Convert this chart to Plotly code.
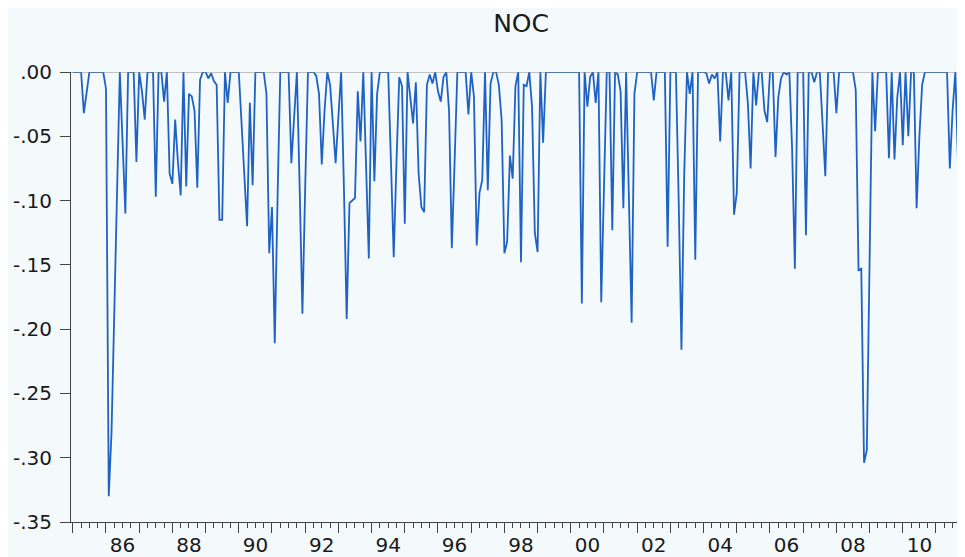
import plotly.graph_objects as go

# monthly NOC series, 1985m1 .. 2011m12 (one row per year)
start_year = 1985
noc = [
    0, 0, 0, 0, -.032, -.015, 0, 0, 0, 0, 0, 0,
    -.013, -.33, -.28, -.19, -.09, 0, -.055, -.110, 0, 0, 0, -.070,
    0, -.015, -.037, 0, 0, 0, -.097, 0, 0, -.023, 0, -.079,
    -.087, -.037, -.070, -.096, 0, -.089, -.017, -.019, -.030, -.090, -.006, 0,
    0, -.005, -.001, -.007, -.010, -.115, -.115, 0, -.024, 0, 0, 0,
    0, -.040, -.085, -.120, -.024, -.088, 0, 0, 0, 0, -.017, -.141,
    -.105, -.211, -.100, 0, 0, 0, 0, -.071, -.035, 0, -.090, -.188,
    -.090, 0, 0, 0, -.003, -.017, -.072, -.030, 0, -.010, -.040, -.071,
    -.035, 0, -.090, -.192, -.102, -.100, -.098, -.015, -.054, 0, -.070, -.145,
    0, -.085, -.017, 0, 0, 0, 0, -.070, -.144, -.070, -.004, -.011,
    -.118, 0, -.020, -.040, -.008, -.079, -.105, -.109, -.010, -.002, -.009, 0,
    -.015, -.023, -.004, 0, -.030, -.137, -.070, 0, 0, 0, 0, -.033,
    0, -.019, -.135, -.094, -.084, 0, -.092, -.009, 0, 0, -.010, -.037,
    -.141, -.132, -.065, -.083, -.011, 0, -.148, -.010, -.011, 0, -.027, -.125,
    -.140, 0, -.055, 0, 0, 0, 0, 0, 0, 0, 0, 0,
    0, 0, 0, 0, -.180, 0, -.027, -.004, 0, -.024, 0, -.179,
    -.090, 0, 0, -.123, 0, -.002, -.015, -.106, 0, -.100, -.195, -.017,
    0, 0, 0, 0, 0, 0, -.022, 0, 0, 0, 0, -.136,
    0, 0, 0, -.100, -.216, -.080, 0, -.017, 0, -.146, 0, 0,
    0, -.001, -.009, -.002, -.005, 0, -.054, 0, 0, -.022, 0, -.111,
    -.094, 0, 0, 0, -.024, -.075, 0, -.026, 0, 0, -.030, -.039,
    0, 0, -.066, -.020, -.005, 0, -.002, 0, -.060, -.153, 0, 0,
    0, -.127, 0, 0, -.008, 0, 0, -.040, -.081, 0, 0, 0,
    -.032, 0, 0, 0, 0, 0, 0, -.014, -.154, -.153, -.304, -.294,
    -.147, 0, -.046, 0, 0, 0, 0, -.067, 0, -.068, -.020, 0,
    -.057, 0, -.050, 0, 0, -.106, -.050, -.010, 0, 0, 0, 0,
    0, 0, 0, 0, 0, -.075, -.030, 0, -.074, 0, -.020, -.042,
]

y_ticks = [0, -.05, -.10, -.15, -.20, -.25, -.30, -.35]
y_labels = [".00", "-.05", "-.10", "-.15", "-.20", "-.25", "-.30", "-.35"]
label_years = list(range(1986, 2011, 2))
x_labels = ["86", "88", "90", "92", "94", "96", "98", "00", "02", "04", "06", "08", "10"]

x = [start_year + i / 12 for i in range(len(noc))]
x_range = [1984.946, 2012.115]
bg = "#f4f9fb"
axis_col = "#444444"
font_family = "DejaVu Sans, Verdana, sans-serif"

fig = go.Figure()
fig.add_trace(go.Scatter(
    x=x, y=noc, mode="lines",
    line=dict(color="#1f62c4", width=1.8),
    showlegend=False, hoverinfo="x+y"
))
# invisible helper so the label axis gets drawn
fig.add_trace(go.Scatter(
    x=[x[0]], y=[noc[0]], xaxis="x2", mode="markers",
    marker=dict(opacity=0), showlegend=False, hoverinfo="skip"
))

fig.update_layout(
    width=965, height=557,
    margin=dict(l=63, r=0, t=64, b=43),
    paper_bgcolor=bg, plot_bgcolor=bg,
    font=dict(family=font_family, size=20, color="#1a1a1a"),
    title=dict(text="NOC", x=0.499, xref="paper", y=0.972, yref="container",
               xanchor="center", yanchor="middle",
               font=dict(family=font_family, size=25, color="#1a1a1a")),
    # yearly ticks + quarterly minor ticks
    xaxis=dict(
        range=x_range, showgrid=False, zeroline=False,
        showline=True, linecolor=axis_col, linewidth=1,
        tickvals=list(range(1985, 2013)), ticktext=[""] * 28,
        ticks="outside", ticklen=10, tickcolor=axis_col,
        minor=dict(tick0=1985, dtick=0.25, ticks="outside", ticklen=5,
                   tickcolor=axis_col, showgrid=False),
    ),
    # year labels centred mid-year
    xaxis2=dict(
        range=x_range, overlaying="x", anchor="y", side="bottom",
        showgrid=False, zeroline=False, showline=False,
        tickvals=[yr + 0.5 for yr in label_years], ticktext=x_labels,
        ticks="outside", ticklen=5, tickcolor="rgba(0,0,0,0)",
        tickfont=dict(family=font_family, size=20),
    ),
    yaxis=dict(
        range=[-0.35, 0], showgrid=False, zeroline=False,
        showline=True, linecolor=axis_col, linewidth=1,
        tickvals=y_ticks, ticktext=y_labels,
        ticks="outside", ticklen=10, tickcolor=axis_col,
        ticklabelstandoff=4,
        tickfont=dict(family=font_family, size=20),
    ),
)

# grey reference line at zero
fig.add_shape(type="line", xref="paper", x0=0, x1=1, yref="y", y0=0, y1=0,
              line=dict(color="#8a8a8a", width=1.2))

fig.write_html("out.html")
